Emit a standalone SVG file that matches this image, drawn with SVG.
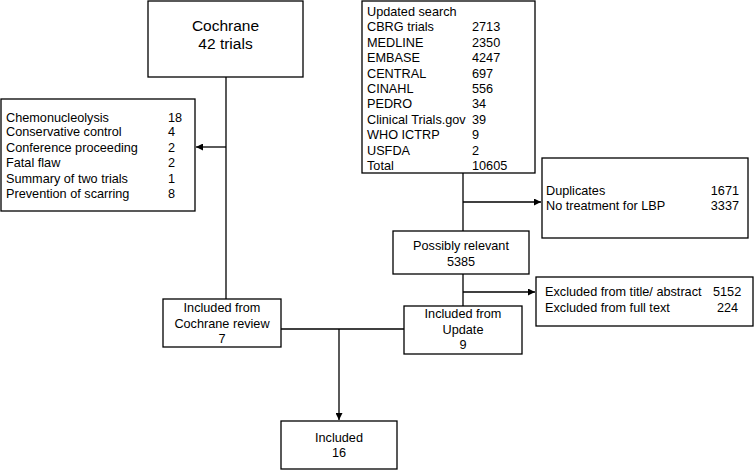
<svg xmlns="http://www.w3.org/2000/svg" width="755" height="470" viewBox="0 0 755 470">
<style>
rect{fill:#fff;stroke:#000;stroke-width:1.3}
text{font-family:"Liberation Sans",Arial,sans-serif;font-size:12.7px;fill:#000}
.c{text-anchor:middle}
.big{font-size:15.5px}
.r{text-anchor:end}
line,path{stroke:#000;stroke-width:1.3;fill:none}
</style>
<defs>
<marker id="ah" viewBox="0 0 10 10" refX="10" refY="5" markerWidth="7" markerHeight="7" markerUnits="userSpaceOnUse" orient="auto"><path d="M0,0 L10,5 L0,10 z" style="fill:#000;stroke:none"/></marker>
</defs>
<g id="connectors">
<line x1="226" y1="77" x2="226" y2="299"/>
<line x1="226" y1="147" x2="196" y2="147" marker-end="url(#ah)"/>
<line x1="463" y1="173" x2="463" y2="231"/>
<line x1="463" y1="202" x2="541" y2="202" marker-end="url(#ah)"/>
<line x1="463" y1="274" x2="463" y2="306"/>
<line x1="463" y1="292" x2="535" y2="292" marker-end="url(#ah)"/>
<line x1="281" y1="329" x2="404" y2="329"/>
<line x1="339" y1="329" x2="339" y2="420" marker-end="url(#ah)"/>
</g>
<g id="cochrane">
<rect x="148" y="1" width="155" height="76"/>
<text class="c big" x="225.5" y="30.5">Cochrane</text>
<text class="c big" x="225.5" y="49">42 trials</text>
</g>
<g id="excluded-cochrane">
<rect x="1" y="99" width="194" height="112"/>
<text x="6" y="121.5">Chemonucleolysis</text><text x="168" y="121.5">18</text>
<text x="6" y="136">Conservative control</text><text x="168" y="136">4</text>
<text x="6" y="151.5">Conference proceeding</text><text x="168" y="151.5">2</text>
<text x="6" y="167">Fatal flaw</text><text x="168" y="167">2</text>
<text x="6" y="182.5">Summary of two trials</text><text x="168" y="182.5">1</text>
<text x="6" y="197.5">Prevention of scarring</text><text x="168" y="197.5">8</text>
</g>
<g id="updated-search">
<rect x="362" y="1" width="173" height="172"/>
<text x="367" y="15.5">Updated search</text>
<text x="367" y="31">CBRG trials</text><text x="472" y="31">2713</text>
<text x="367" y="46.5">MEDLINE</text><text x="472" y="46.5">2350</text>
<text x="367" y="62">EMBASE</text><text x="472" y="62">4247</text>
<text x="367" y="77.5">CENTRAL</text><text x="472" y="77.5">697</text>
<text x="367" y="92.5">CINAHL</text><text x="472" y="92.5">556</text>
<text x="367" y="108">PEDRO</text><text x="472" y="108">34</text>
<text x="367" y="123.5">Clinical Trials.gov</text><text x="472" y="123.5">39</text>
<text x="367" y="139">WHO ICTRP</text><text x="472" y="139">9</text>
<text x="367" y="154.5">USFDA</text><text x="472" y="154.5">2</text>
<text x="367" y="169.5">Total</text><text x="472" y="169.5">10605</text>
</g>
<g id="duplicates">
<rect x="542" y="158" width="206" height="80"/>
<text x="546" y="194.5">Duplicates</text><text class="r" x="739" y="194.5">1671</text>
<text x="546" y="209.5">No treatment for LBP</text><text class="r" x="739" y="209.5">3337</text>
</g>
<g id="possibly-relevant">
<rect x="393" y="231" width="136" height="43"/>
<text class="c" x="461" y="249.5">Possibly relevant</text>
<text class="c" x="461" y="265.5">5385</text>
</g>
<g id="excluded-update">
<rect x="536" y="277" width="217" height="49"/>
<text x="545" y="295.5">Excluded from title/ abstract</text><text x="713" y="295.5">5152</text>
<text x="545" y="311.5">Excluded from full text</text><text x="717" y="311.5">224</text>
</g>
<g id="included-update">
<rect x="404" y="306" width="118" height="48"/>
<text class="c" x="463" y="317.5">Included from</text>
<text class="c" x="463" y="333.5">Update</text>
<text class="c" x="463" y="348.5">9</text>
</g>
<g id="included-cochrane">
<rect x="163" y="299" width="118" height="48"/>
<text class="c" x="222" y="311.5">Included from</text>
<text class="c" x="222" y="327.5">Cochrane review</text>
<text class="c" x="222" y="342.5">7</text>
</g>
<g id="included">
<rect x="281" y="421" width="116" height="48"/>
<text class="c" x="339" y="441.5">Included</text>
<text class="c" x="339" y="456.5">16</text>
</g>
</svg>
